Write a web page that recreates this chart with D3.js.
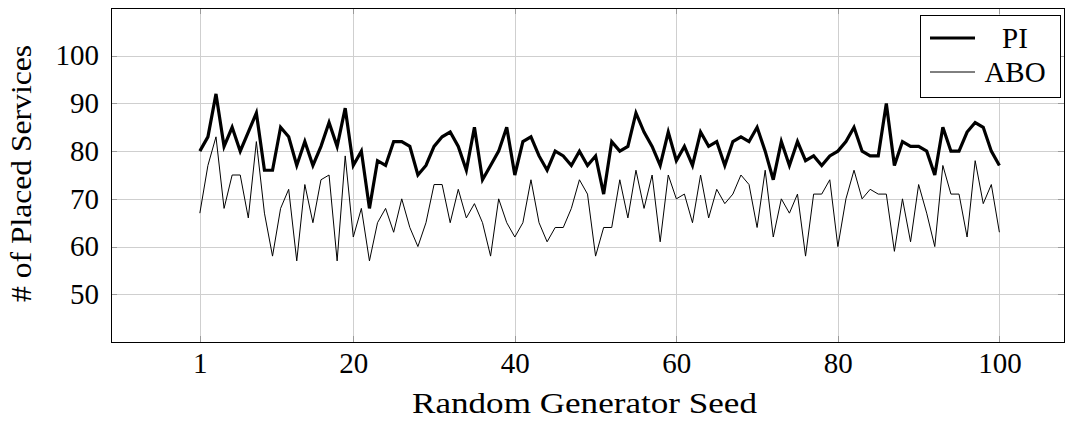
<!DOCTYPE html>
<html>
<head>
<meta charset="utf-8">
<script src="https://cdn.jsdelivr.net/npm/d3@7"></script>
<style>
  html, body { margin: 0; padding: 0; background: #fff; }
  svg { display: block; }
  text { font-family: "Liberation Serif", "DejaVu Serif", serif; fill: #000; }
</style>
</head>
<body>
<svg id="chart" width="1072" height="421"></svg>
<script>
// Placed services per random generator seed (seeds 1..100)
const seeds = d3.range(1, 101);
const piValues = [
  80, 83, 92, 81, 85, 80, 84, 88, 76, 76,
  85, 83, 77, 82, 77, 81, 86, 81, 89, 77,
  80, 68, 78, 77, 82, 82, 81, 75, 77, 81,
  83, 84, 81, 76, 85, 74, 77, 80, 85, 75,
  82, 83, 79, 76, 80, 79, 77, 80, 77, 79,
  71, 82, 80, 81, 88, 84, 81, 77, 84, 78,
  81, 77, 84, 81, 82, 77, 82, 83, 82, 85,
  80, 74, 82, 77, 82, 78, 79, 77, 79, 80,
  82, 85, 80, 79, 79, 90, 77, 82, 81, 81,
  80, 75, 85, 80, 80, 84, 86, 85, 80, 77
];
const aboValues = [
  67, 77, 83, 68, 75, 75, 66, 82, 67, 58,
  68, 72, 57, 73, 65, 74, 75, 57, 79, 62,
  68, 57, 65, 68, 63, 70, 64, 60, 65, 73,
  73, 65, 72, 66, 69, 65, 58, 70, 65, 62,
  65, 74, 65, 61, 64, 64, 68, 74, 71, 58,
  64, 64, 74, 66, 76, 68, 75, 61, 75, 70,
  71, 65, 75, 66, 72, 69, 71, 75, 73, 64,
  76, 62, 70, 67, 71, 58, 71, 71, 74, 60,
  70, 76, 70, 72, 71, 71, 59, 70, 61, 73,
  67, 60, 77, 71, 71, 62, 78, 69, 73, 63
];
const xTicks = [1, 20, 40, 60, 80, 100];
const yTicks = [50, 60, 70, 80, 90, 100];
const seriesNames = ["PI", "ABO"];

const svg = d3.select("#chart");
const frame = { left: 111, right: 1064, top: 8, bottom: 342 };

const x = d3.scaleLinear().domain([-10, 108]).range([frame.left, frame.right]);
const y = d3.scaleLinear().domain([40, 110]).range([frame.bottom, frame.top]);

// grid
const grid = svg.append("g").attr("stroke", "#cfcfcf").attr("stroke-width", 1);
grid.selectAll("line.gx").data(xTicks).join("line")
  .attr("x1", d => Math.round(x(d)) + 0.5).attr("x2", d => Math.round(x(d)) + 0.5)
  .attr("y1", frame.top).attr("y2", frame.bottom);
grid.selectAll("line.gy").data(yTicks).join("line")
  .attr("y1", d => Math.round(y(d)) + 0.5).attr("y2", d => Math.round(y(d)) + 0.5)
  .attr("x1", frame.left).attr("x2", frame.right);

// inward tick marks on all four sides
const tickLen = 6;
const ticks = svg.append("g").attr("stroke", "#9a9a9a").attr("stroke-width", 1);
xTicks.forEach(d => {
  const px = Math.round(x(d)) + 0.5;
  ticks.append("line").attr("x1", px).attr("x2", px).attr("y1", frame.bottom).attr("y2", frame.bottom - tickLen);
  ticks.append("line").attr("x1", px).attr("x2", px).attr("y1", frame.top).attr("y2", frame.top + tickLen);
});
yTicks.forEach(d => {
  const py = Math.round(y(d)) + 0.5;
  ticks.append("line").attr("y1", py).attr("y2", py).attr("x1", frame.left).attr("x2", frame.left + tickLen);
  ticks.append("line").attr("y1", py).attr("y2", py).attr("x1", frame.right).attr("x2", frame.right - tickLen);
});

// tick labels via d3 axes (axis lines hidden, only text kept)
const xAxis = svg.append("g")
  .attr("transform", `translate(0,${frame.bottom})`)
  .call(d3.axisBottom(x).tickValues(xTicks).tickSize(0).tickPadding(0).tickFormat(d3.format("d")));
xAxis.select(".domain").remove();
xAxis.selectAll("text").attr("font-size", 29).attr("font-family", "Liberation Serif")
  .attr("y", 31).attr("dy", 0);

const yAxis = svg.append("g")
  .attr("transform", `translate(${frame.left},0)`)
  .call(d3.axisLeft(y).tickValues(yTicks).tickSize(0).tickPadding(12).tickFormat(d3.format("d")));
yAxis.select(".domain").remove();
yAxis.selectAll("text").attr("font-size", 29).attr("font-family", "Liberation Serif");

// series lines
const line = d3.line().x((d, i) => x(seeds[i])).y(d => y(d));
const plot = svg.append("g");
plot.append("path").datum(aboValues)
  .attr("fill", "none").attr("stroke", "#000").attr("stroke-width", 1)
  .attr("stroke-linejoin", "miter").attr("d", line);
plot.append("path").datum(piValues)
  .attr("fill", "none").attr("stroke", "#000").attr("stroke-width", 3.2)
  .attr("stroke-linejoin", "miter").attr("d", line);

// frame
svg.append("rect")
  .attr("x", frame.left + 0.5).attr("y", frame.top + 0.5)
  .attr("width", frame.right - frame.left).attr("height", frame.bottom - frame.top)
  .attr("fill", "none").attr("stroke", "#000").attr("stroke-width", 1);

// axis titles
svg.append("text")
  .attr("x", 412).attr("y", 413)
  .attr("font-size", 30)
  .attr("textLength", 345).attr("lengthAdjust", "spacingAndGlyphs")
  .text("Random Generator Seed");
svg.append("text")
  .attr("transform", `translate(31,302) rotate(-90)`)
  .attr("font-size", 30)
  .attr("textLength", 257).attr("lengthAdjust", "spacingAndGlyphs")
  .text("# of Placed Services");

// legend
const legend = svg.append("g");
legend.append("rect")
  .attr("x", 920.5).attr("y", 15.5).attr("width", 140).attr("height", 82)
  .attr("fill", "#fff").attr("stroke", "#000").attr("stroke-width", 1);
const widths = [3.2, 1];
seriesNames.forEach((name, i) => {
  const ly = 38 + i * 34;
  legend.append("line")
    .attr("x1", 930).attr("x2", 975).attr("y1", ly).attr("y2", ly)
    .attr("stroke", "#000").attr("stroke-width", widths[i]);
  legend.append("text")
    .attr("x", 1015).attr("y", ly).attr("dy", "0.35em")
    .attr("text-anchor", "middle").attr("font-size", 29)
    .text(name);
});
</script>
</body>
</html>
